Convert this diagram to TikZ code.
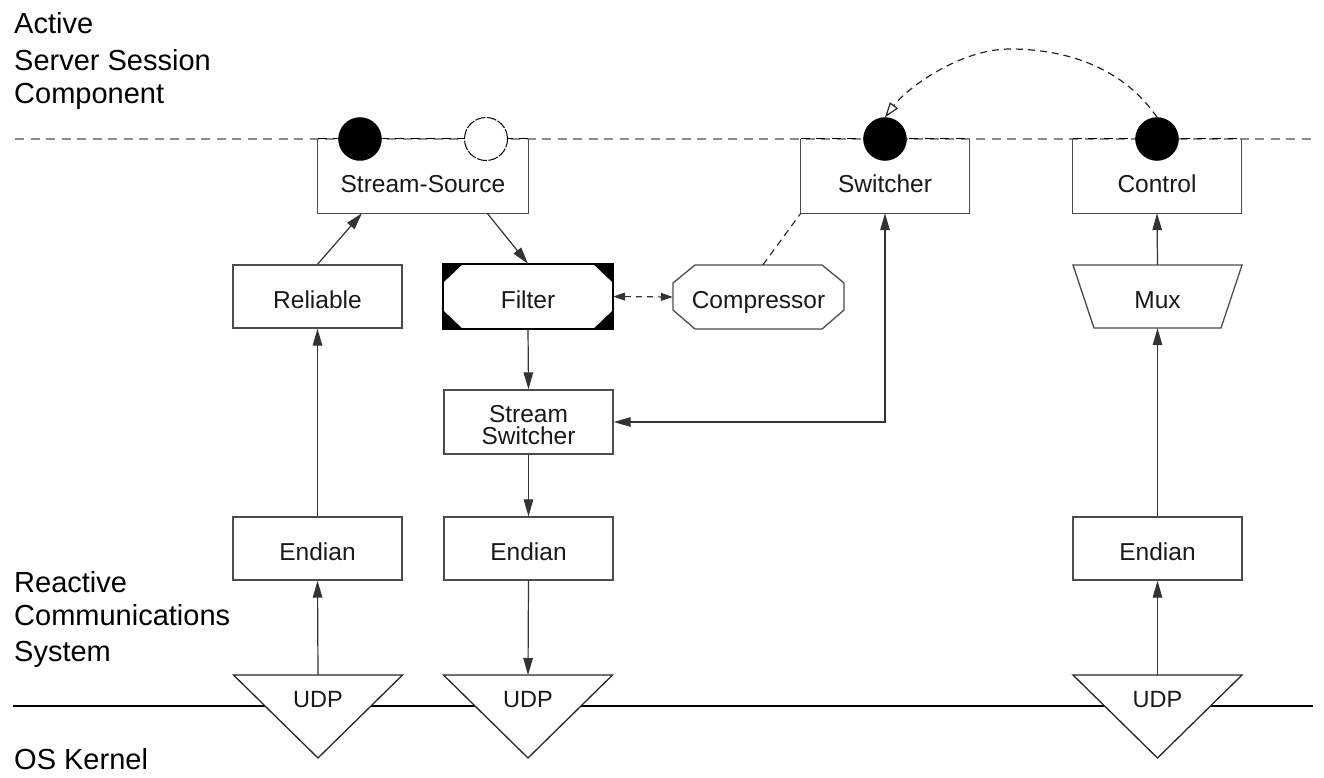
\documentclass[tikz,border=0pt]{standalone}
\usepackage{fontspec}
\setmainfont{Liberation Sans}
\usetikzlibrary{arrows.meta,calc}

\newcommand{\boxfont}{\fontsize{24.5}{22}\selectfont}
\newcommand{\layerfont}{\fontsize{29}{34}\selectfont}

\begin{document}
\begin{tikzpicture}[x=1pt,y=-1pt,
  outline/.style={draw=black!70, line width=1.3pt},
  box/.style={outline, inner sep=0pt, minimum width=169pt, minimum height=63pt,
    font=\boxfont, text=black!90, text height=23pt, text depth=0pt},
  topbox/.style={inner sep=0pt, minimum height=74pt, font=\boxfont, text=black!90,
    text height=33.6pt, text depth=0pt},
  shapebox/.style={inner sep=0pt, font=\boxfont, text=black!90, text height=23pt, text depth=0pt},
  layer/.style={anchor=base west, inner sep=0pt, font=\layerfont, text=black},
  tip/.tip={Triangle[length=17pt,width=9.5pt]},
  conn/.style={draw=black!80, line width=1.2pt, -tip},
  biconn/.style={draw=black!80, line width=1.2pt, tip-tip},
  separator/.style={draw=black!45, line width=1.3pt, dash pattern=on 9pt off 6.5pt},
  boxtop/.style={draw=black, line width=1.3pt, dash pattern=on 9pt off 6.5pt},
  port/.style={circle, fill=black, draw=black, minimum size=43pt, inner sep=0pt},
  openport/.style={circle, fill=white, draw=black, line width=1pt, dash pattern=on 10pt off 1.5pt, minimum size=43pt, inner sep=0pt},
  tri/.style={draw=black!85, line width=1.3pt, fill=white},
]
\useasboundingbox (0,0) rectangle (1324,777);

% layer boundaries
\draw[separator] (15,139) -- (1312,139);
\draw[black, line width=1.3pt] (13,706) -- (1313,706);

% layer names
\node[layer] (l1a) at (14,33) {Active};
\node[layer] (l1b) at (14,70) {Server Session};
\node[layer] (l1c) at (14,103) {Component};
\node[layer] (l2a) at (14,592) {Reactive};
\node[layer] (l2b) at (14,625) {Communications};
\node[layer] (l2c) at (14,661) {System};
\node[layer] (l3) at (14,769) {OS Kernel};

% components sitting on the session boundary
\node[topbox, minimum width=210pt] (ss) at (423,176) {Stream-Source};
\node[topbox, minimum width=168pt] (sw) at (885,176) {Switcher};
\node[topbox, minimum width=168pt] (ctrl) at (1157,176) {Control};
\foreach \n in {ss,sw,ctrl}{
  \draw[outline] (\n.north west) -- (\n.south west) -- (\n.south east) -- (\n.north east);
  \draw[boxtop] (\n.north west) -- (\n.north east);
}
\node[port] (p1) at (360,139) {};
\node[openport] (p2) at (486,139) {};
\node[port] (p3) at (885,139) {};
\node[port] (p4) at (1157,139) {};

% middle row
\node[box] (rel) at (317.5,296.5) {Reliable};

\fill[black] (443,264) rectangle (613,329);
\fill[white] (443,283) -- (463,264) -- (593,264) -- (613,283) -- (613,310) -- (593,329) -- (463,329) -- (443,310) -- cycle;
\draw[black, line width=1.3pt] (443,264) rectangle (613,329);
\node[shapebox, minimum width=170pt, minimum height=65pt] (filt) at (528,296.5) {Filter};

\draw[outline] (673,283) -- (695,265) -- (822,265) -- (844,283) -- (844,310) -- (822,329) -- (695,329) -- (673,310) -- cycle;
\node[shapebox, minimum width=171pt, minimum height=64pt] (comp) at (758.5,297) {Compressor};

\draw[outline] (1073,265) -- (1242,265) -- (1221,328) -- (1094,328) -- cycle;
\node[shapebox, minimum width=169pt, minimum height=63pt] (mux) at (1157.5,296.5) {Mux};

\node[box, minimum height=64pt] (ssw) at (528.5,422) {};
\node[font=\boxfont, text=black!90, align=center, inner sep=0pt] (sswt) at (528.5,425) {Stream\\Switcher};

% protocol row
\node[box] (endL) at (317.5,548.5) {Endian};
\node[box] (endM) at (528.5,548.5) {Endian};
\node[box] (endR) at (1157.5,548.5) {Endian};

% UDP endpoints straddling the kernel boundary
\foreach \c/\n in {318/udpL,528/udpM,1157.5/udpR}{
  \draw[tri] (\c-84.5,675) -- (\c+84.5,675) -- (\c,758) -- cycle;
  \coordinate (\n top) at (\c,675);
  \node[font=\fontsize{23.5}{28}\selectfont, text=black!90, anchor=base, inner sep=0pt] (\n) at (\c,707) {UDP};
}

% data paths
\draw[conn] (udpLtop) -- (endL.south);
\draw[conn] (endL.north) -- (rel.south);
\draw[conn] (rel.north) -- ($(ss.south west)!0.21!(ss.south east)$);
\draw[conn] ($(ss.south west)!0.805!(ss.south east)$) -- (filt.north);
\draw[conn] (filt.south) -- (ssw.north);
\draw[conn] (ssw.south) -- (endM.north);
\draw[conn] (endM.south) -- (udpMtop);
\draw[biconn] (sw.south) |- (ssw.east);
\draw[conn] (udpRtop) -- (endR.south);
\draw[conn] (endR.north) -- (mux.south);
\draw[conn] (mux.north) -- (ctrl.south);

% control associations
\draw[draw=black!80, line width=1.2pt, dash pattern=on 6pt off 5pt,
  {Triangle[length=12pt,width=8pt]}-{Triangle[length=12pt,width=8pt]}] (filt.east) -- (comp.west);
\draw[draw=black!80, line width=1.2pt, dash pattern=on 7pt off 5pt]
  ($(comp.north west)!0.526!(comp.north east)$) -- (sw.south west);
\draw[draw=black!85, line width=1.2pt, dash pattern=on 7pt off 5pt,
  -{Triangle[open,fill=white,length=15pt,width=10pt]}]
  (p4.north) .. controls (1125,70) and (1070,49) .. (1010,49)
  .. controls (960,49) and (907,88) .. (p3.north);
\end{tikzpicture}
\end{document}
